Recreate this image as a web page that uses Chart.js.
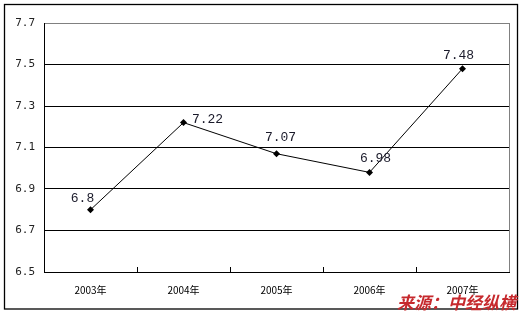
<!DOCTYPE html>
<html>
<head>
<meta charset="utf-8">
<script src="https://cdn.jsdelivr.net/npm/chart.js@4"></script>
<style>
  html, body { margin: 0; padding: 0; background: #fff; }
  #wrap { width: 522px; height: 314px; position: relative; }
</style>
</head>
<body>
<div id="wrap"><canvas id="myChart"></canvas></div>
<script>
const labels = ["2003年", "2004年", "2005年", "2006年", "2007年"];
const values = [6.8, 7.22, 7.07, 6.98, 7.48];
const yTicks = [6.5, 6.7, 6.9, 7.1, 7.3, 7.5, 7.7];

// where each value label sits relative to its point (dx, dy)
const labelOffsets = [[-8, -11], [24, -3], [4, -16], [6, -14], [-4, -13]];

const frame = {
  id: "frame",
  afterDraw(chart) {
    const c = chart.ctx;
    const a = chart.chartArea;
    const x = chart.scales.x;
    c.save();
    // right edge of plot
    c.strokeStyle = "#808080";
    c.lineWidth = 1;
    c.beginPath();
    c.moveTo(Math.round(a.right) + 0.5, a.top);
    c.lineTo(Math.round(a.right) + 0.5, a.bottom);
    c.stroke();
    // inward ticks on category boundaries
    c.strokeStyle = "#000";
    const w = (a.right - a.left) / labels.length;
    for (let i = 1; i < labels.length; i++) {
      const px = Math.round(x.getPixelForValue(i) - w / 2) + 0.5;
      c.beginPath();
      c.moveTo(px, a.bottom);
      c.lineTo(px, a.bottom - 5);
      c.stroke();
    }
    // value labels
    const meta = chart.getDatasetMeta(0);
    c.font = "13px 'Liberation Mono', 'DejaVu Sans Mono', monospace";
    c.fillStyle = "#1a1a2a";
    c.textAlign = "center";
    c.textBaseline = "middle";
    meta.data.forEach((pt, i) => {
      c.fillText(String(values[i]), pt.x + labelOffsets[i][0], pt.y + labelOffsets[i][1]);
    });
    // outer border
    c.strokeStyle = "#000";
    c.lineWidth = 1.3;
    c.strokeRect(4.5, 4.5, 513, 304.5);
    // source note
    c.font = "italic bold 17px 'Noto Sans CJK SC', sans-serif";
    c.fillStyle = "#c62a2e";
    c.textAlign = "right";
    c.textBaseline = "alphabetic";
    c.fillText("来源：中经纵横", 516, 309);
    c.restore();
  },
};

const data = {
  labels: labels,
  datasets: [
    {
      data: values,
      borderColor: "#000",
      borderWidth: 1,
      pointStyle: "rectRot",
      pointRadius: 3.5,
      pointBackgroundColor: "#000",
      pointBorderColor: "#000",
      pointBorderWidth: 0,
      tension: 0,
    },
  ],
};

const config = {
  type: "line",
  data: data,
  plugins: [frame],
  options: {
    responsive: true,
    maintainAspectRatio: false,
    animation: false,
    layout: {
      padding: { top: 23, right: 13, bottom: 0, left: 0 },
    },
    plugins: {
      legend: { display: false },
      tooltip: { enabled: false },
    },
    scales: {
      x: {
        offset: true,
        grid: { display: false },
        border: { color: "#000", width: 1 },
        ticks: {
          padding: 4,
          color: "#000",
          font: { size: 10, family: "'Noto Sans CJK SC', sans-serif" },
          maxRotation: 0,
        },
        afterFit(scale) {
          scale.height = 42;
        },
      },
      y: {
        min: 6.5,
        max: 7.7,
        afterBuildTicks(scale) {
          scale.ticks = yTicks.map((v) => ({ value: v }));
        },
        grid: {
          drawTicks: false,
          color: (ctx) => (ctx.tick && ctx.tick.value === 7.7 ? "#808080" : "#000"),
          lineWidth: 1,
        },
        border: { color: "#000", width: 1 },
        ticks: {
          padding: 9,
          color: "#222",
          font: { size: 11, family: "'DejaVu Sans Mono', monospace" },
          callback: (v) => v.toFixed(1),
        },
        afterFit(scale) {
          scale.width = 44;
        },
      },
    },
  },
};

new Chart(document.getElementById("myChart"), config);
</script>
</body>
</html>
